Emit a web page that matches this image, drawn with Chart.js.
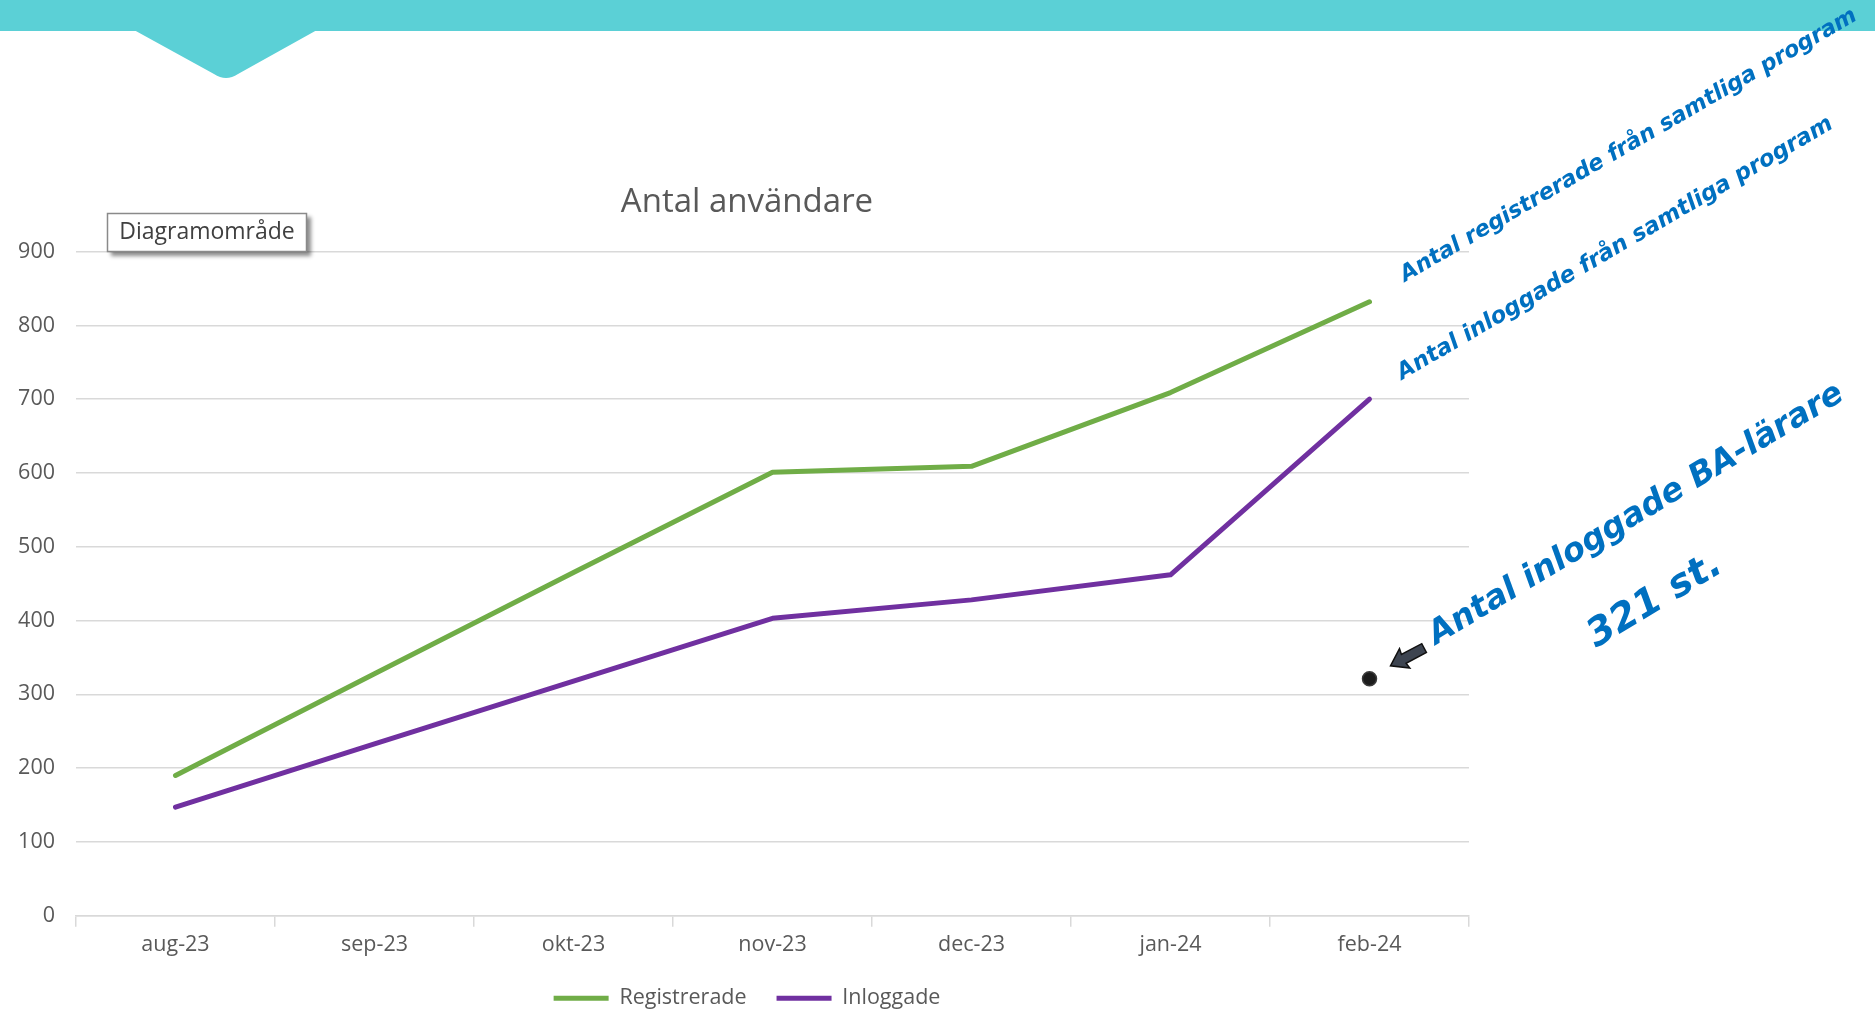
<!DOCTYPE html>
<html>
<head>
<meta charset="utf-8">
<title>Antal användare</title>
<script src="https://cdn.jsdelivr.net/npm/chart.js@4"></script>
<style>
  html, body { margin: 0; padding: 0; background: #ffffff; overflow: hidden; }
  #wrap { position: relative; width: 1875px; height: 1011px; }
  canvas { display: block; }
</style>
</head>
<body>
<div id="wrap"><canvas id="chart" width="1875" height="1011"></canvas></div>
<script>
// Monthly user counts
const months = ['aug-23', 'sep-23', 'okt-23', 'nov-23', 'dec-23', 'jan-24', 'feb-24'];
const registrerade = [190, 328, 465, 601, 609, 709, 832];
const inloggade = [147, 233, 318, 403, 428, 462, 700];
const baLarare = [null, null, null, null, null, null, 321];
const seriesNames = ['Registrerade', 'Inloggade', 'BA-lärare'];

const yMin = 0;
const yMax = 900;
const yStep = 100;

const chartTitle = 'Antal användare';
const tooltipBoxText = 'Diagramområde';
const noteRegistrerade = 'Antal registrerade från samtliga program';
const noteInloggade = 'Antal inloggade från samtliga program';
const noteBa = 'Antal inloggade BA-lärare';
const noteBaCount = baLarare[baLarare.length - 1] + ' st.';

const GREEN = '#70AD47';
const PURPLE = '#7030A0';
const AXIS_TEXT = '#595959';
const GRID = '#d9d9d9';
const NOTE_BLUE = '#0070C0';
const BANNER = '#5BD0D6';
const AXIS_FONT = { family: '"Open Sans"', size: 21.5 };

// Draws a rotated note, sized so the string spans the given length
function drawNote(ctx, text, x, y, deg, length) {
  ctx.save();
  ctx.translate(x, y);
  ctx.rotate(-deg * Math.PI / 180);
  ctx.font = 'italic bold 20px "DejaVu Sans"';
  const w = ctx.measureText(text).width;
  const size = 20 * length / w;
  ctx.font = 'italic bold ' + size.toFixed(2) + 'px "DejaVu Sans"';
  ctx.fillStyle = NOTE_BLUE;
  ctx.textBaseline = 'alphabetic';
  ctx.textAlign = 'left';
  ctx.fillText(text, 0, 0);
  ctx.restore();
}

const decorations = {
  id: 'decorations',
  beforeDraw(chart) {
    const ctx = chart.ctx;
    ctx.save();
    ctx.fillStyle = '#ffffff';
    ctx.fillRect(0, 0, chart.width, chart.height);
    // header band with chevron
    ctx.fillStyle = BANNER;
    ctx.fillRect(0, 0, chart.width, 31);
    ctx.beginPath();
    ctx.moveTo(134, 30);
    ctx.lineTo(214, 74);
    ctx.quadraticCurveTo(226, 82, 238, 74);
    ctx.lineTo(317, 30);
    ctx.closePath();
    ctx.fill();
    ctx.restore();
  },
  afterDraw(chart) {
    const ctx = chart.ctx;
    ctx.save();

    // "Diagramområde" hover box
    ctx.save();
    ctx.shadowColor = 'rgba(0,0,0,0.45)';
    ctx.shadowBlur = 4;
    ctx.shadowOffsetX = 4;
    ctx.shadowOffsetY = 4;
    ctx.fillStyle = '#ffffff';
    ctx.fillRect(107, 213, 200, 39);
    ctx.restore();
    ctx.strokeStyle = '#8a8a8a';
    ctx.lineWidth = 1.5;
    ctx.strokeRect(107.5, 213.5, 199, 38);
    ctx.fillStyle = '#404040';
    ctx.font = '23px "Open Sans"';
    ctx.textAlign = 'center';
    ctx.textBaseline = 'middle';
    ctx.fillText(tooltipBoxText, 207, 232);

    // arrow pointing at the BA-lärare point
    const meta = chart.getDatasetMeta(2);
    const pt = meta.data[meta.data.length - 1];
    const tipX = pt.x + 21;
    const tipY = pt.y - 13;
    ctx.save();
    ctx.translate(tipX, tipY);
    ctx.rotate(Math.atan2(-18, 34));
    ctx.beginPath();
    ctx.moveTo(0, 0);
    ctx.lineTo(16, -11);
    ctx.lineTo(15, -5);
    ctx.lineTo(38, -5);
    ctx.lineTo(38, 5);
    ctx.lineTo(15, 5);
    ctx.lineTo(16, 11);
    ctx.closePath();
    ctx.fillStyle = '#3d4450';
    ctx.fill();
    ctx.strokeStyle = '#111111';
    ctx.lineWidth = 1.5;
    ctx.stroke();
    ctx.restore();

    // rotated notes
    drawNote(ctx, noteRegistrerade, 1405, 282, 30.1, 524);
    drawNote(ctx, noteInloggade, 1402, 380, 30.3, 501);
    drawNote(ctx, noteBa, 1436, 645, 31, 478);
    drawNote(ctx, noteBaCount, 1596, 648, 31, 150);

    ctx.restore();
  }
};

const ctx = document.getElementById('chart').getContext('2d');
new Chart(ctx, {
  type: 'line',
  data: {
    labels: months,
    datasets: [
      {
        label: seriesNames[0],
        data: registrerade,
        borderColor: GREEN,
        backgroundColor: GREEN,
        borderWidth: 5,
        pointRadius: 0,
        tension: 0,
        borderJoinStyle: 'round',
        borderCapStyle: 'round'
      },
      {
        label: seriesNames[1],
        data: inloggade,
        borderColor: PURPLE,
        backgroundColor: PURPLE,
        borderWidth: 5,
        pointRadius: 0,
        tension: 0,
        borderJoinStyle: 'round',
        borderCapStyle: 'round'
      },
      {
        label: seriesNames[2],
        data: baLarare,
        showLine: false,
        pointRadius: 7,
        pointBackgroundColor: '#1c1c1c',
        pointBorderColor: '#3a3a3a',
        pointBorderWidth: 1.5,
        borderColor: '#1c1c1c',
        backgroundColor: '#1c1c1c'
      }
    ]
  },
  options: {
    responsive: false,
    animation: false,
    devicePixelRatio: 1,
    layout: { padding: { left: 0, right: 381, top: 183, bottom: -8 } },
    plugins: {
      tooltip: { enabled: false },
      title: {
        display: true,
        text: chartTitle,
        color: AXIS_TEXT,
        font: { family: '"Open Sans"', size: 33, weight: 'normal' },
        padding: { top: 0, bottom: 29 }
      },
      legend: {
        position: 'bottom',
        labels: {
          color: AXIS_TEXT,
          font: { family: '"Open Sans"', size: 21.5 },
          boxWidth: 55,
          boxHeight: 5,
          padding: 30,
          filter: (item) => item.datasetIndex < 2,
          generateLabels: (chart) => Chart.defaults.plugins.legend.labels.generateLabels(chart)
            .map(l => Object.assign(l, { lineWidth: 0 }))
        }
      }
    },
    scales: {
      x: {
        type: 'category',
        offset: true,
        grid: {
          offset: true,
          drawOnChartArea: false,
          drawTicks: true,
          tickLength: 11,
          color: GRID,
          lineWidth: 1.5
        },
        border: { display: true, color: GRID, width: 1.5 },
        ticks: {
          color: AXIS_TEXT,
          font: AXIS_FONT,
          padding: 5,
          maxRotation: 0
        },
        afterFit: (scale) => { scale.height -= 5; }
      },
      y: {
        min: yMin,
        max: yMax,
        ticks: {
          stepSize: yStep,
          color: AXIS_TEXT,
          font: AXIS_FONT,
          padding: 21
        },
        grid: { color: GRID, lineWidth: 1.5, drawTicks: false },
        border: { display: false },
        afterFit: (scale) => { scale.width = 76; }
      },
      yRight: {
        axis: 'y',
        position: 'right',
        display: true,
        grid: { display: false, drawTicks: false },
        ticks: { display: false },
        border: { display: false },
        afterFit: (scale) => { scale.width = 25; }
      }
    }
  },
  plugins: [decorations]
});
</script>
</body>
</html>
